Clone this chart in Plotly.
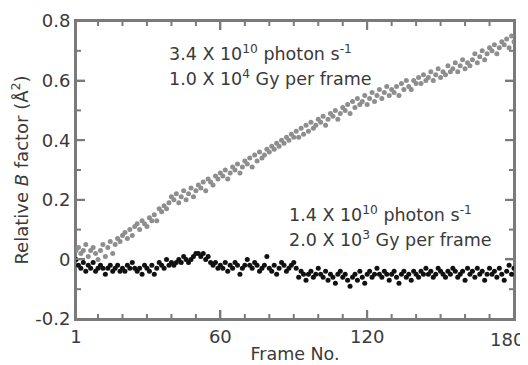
import plotly.graph_objects as go

frames = list(range(1, 181))

high_dose = [
    0.03, 0.04, 0.02, 0.03, 0.05, 0.01, 0.03, 0.04, 0.02, 0.00,
    0.03, 0.05, 0.01, 0.04, 0.06, 0.02, 0.05, 0.07, 0.06, 0.08,
    0.09, 0.07, 0.10, 0.08, 0.11, 0.12, 0.10, 0.13, 0.12, 0.11,
    0.14, 0.13, 0.15, 0.13, 0.17, 0.16, 0.18, 0.17, 0.19, 0.21,
    0.20, 0.22, 0.19, 0.21, 0.23, 0.20, 0.22, 0.24, 0.21, 0.23,
    0.25, 0.24, 0.26, 0.23, 0.27, 0.26, 0.25, 0.28, 0.27, 0.29,
    0.28, 0.30, 0.27, 0.29, 0.31, 0.30, 0.32, 0.29, 0.31, 0.33,
    0.32, 0.34, 0.31, 0.35, 0.33, 0.36, 0.34, 0.35, 0.37, 0.36,
    0.38, 0.37, 0.39, 0.38, 0.40, 0.39, 0.41, 0.40, 0.42, 0.41,
    0.43, 0.41, 0.44, 0.42, 0.45, 0.43, 0.46, 0.44, 0.45, 0.47,
    0.46, 0.48, 0.45, 0.47, 0.49, 0.48, 0.50, 0.47, 0.49, 0.51,
    0.50, 0.52, 0.49, 0.53, 0.51, 0.54, 0.52, 0.53, 0.55, 0.52,
    0.54, 0.56, 0.53, 0.55, 0.57, 0.54, 0.56, 0.58, 0.55, 0.57,
    0.56, 0.58, 0.55, 0.59, 0.57, 0.60, 0.58, 0.57, 0.60, 0.59,
    0.61, 0.59, 0.62, 0.60, 0.61, 0.63, 0.60, 0.62, 0.64, 0.61,
    0.63, 0.62, 0.65, 0.63, 0.64, 0.66, 0.63, 0.65, 0.67, 0.64,
    0.66, 0.65, 0.67, 0.69, 0.66, 0.68, 0.70, 0.67, 0.69, 0.71,
    0.70, 0.72, 0.69, 0.71, 0.73, 0.72, 0.74, 0.71, 0.75, 0.73,
]

low_dose = [
    0.00, -0.02, -0.03, -0.01, -0.04, -0.02, -0.03, -0.01, -0.04, -0.03,
    -0.02, -0.03, -0.05, -0.03, -0.02, -0.04, -0.03, -0.02, -0.04, -0.03,
    -0.04, -0.02, -0.03, -0.01, -0.03, -0.04, -0.03, -0.05, -0.02, -0.03,
    -0.04, -0.02, -0.05, -0.03, -0.01, -0.02, -0.03, 0.00, -0.02, -0.01,
    -0.02, -0.01, 0.00, -0.01, 0.01, 0.00, -0.01, 0.00, 0.01, 0.02,
    0.02, 0.01, 0.02, 0.00, 0.01, -0.01, -0.02, -0.01, -0.03, -0.02,
    -0.03, -0.01, -0.04, -0.02, -0.03, -0.01, -0.02, -0.05, -0.03, -0.02,
    0.00, -0.02, -0.03, -0.01, -0.02, -0.04, -0.03, -0.02, 0.01, -0.03,
    -0.04, -0.02, -0.05, -0.03, -0.01, -0.02, -0.04, -0.03, -0.02, -0.01,
    -0.03, -0.06, -0.04, -0.05, -0.07, -0.05, -0.04, -0.06, -0.05, -0.03,
    -0.05, -0.06, -0.04, -0.07, -0.05, -0.06, -0.08, -0.05, -0.04, -0.06,
    -0.05, -0.07, -0.09, -0.06, -0.05, -0.07, -0.04, -0.06, -0.08, -0.05,
    -0.04, -0.06, -0.05, -0.03, -0.05, -0.06, -0.04, -0.05, -0.07, -0.05,
    -0.04, -0.06, -0.08, -0.05, -0.04, -0.06, -0.05, -0.07, -0.04, -0.05,
    -0.06, -0.04, -0.05, -0.03, -0.05, -0.04, -0.06, -0.05, -0.03, -0.04,
    -0.05, -0.06, -0.04, -0.05, -0.03, -0.04, -0.06, -0.05, -0.04, -0.07,
    -0.03, -0.05, -0.04, -0.06, -0.03, -0.05, -0.04, -0.07, -0.05, -0.03,
    -0.05, -0.04, -0.06, -0.03, -0.05, -0.07, -0.04, -0.02, -0.05, -0.03,
]

x_ticks = [1, 60, 120, 180]
x_labels = ["1", "60", "120", ""]   # the last label is placed as a text below, nudged inward
last_x_label = "180"
x_minor = [10, 20, 30, 40, 50, 70, 80, 90, 100, 110, 130, 140, 150, 160, 170]
y_ticks = [-0.2, 0, 0.2, 0.4, 0.6, 0.8]
y_labels = ["-0.2", "0", "0.2", "0.4", "0.6", "0.8"]
y_minor = [-0.1, 0.1, 0.3, 0.5, 0.7]

label_high = ["3.4 X 10<sup>10</sup> photon s<sup>-1</sup>", "1.0 X 10<sup>4</sup> Gy per frame"]
label_low = ["1.4 X 10<sup>10</sup> photon s<sup>-1</sup>", "2.0 X 10<sup>3</sup> Gy per frame"]

TXT = "#3a3a3a"
AX = "#7a7a7a"
FONT = "DejaVu Sans, sans-serif"
X_RANGE = [1, 180]
Y_RANGE = [-0.2, 0.8]

# plot area is 438 x 298 px; convert tick lengths in px to data units
PX_X = (X_RANGE[1] - X_RANGE[0]) / 438.0
PX_Y = (Y_RANGE[1] - Y_RANGE[0]) / 298.0
MAJOR, MINOR = 9, 5

fig = go.Figure()

# frame and ticks as a line trace built from the axis ranges and tick arrays
fx, fy = [], []
x0, x1 = X_RANGE
y0, y1 = Y_RANGE
fx += [x0, x1, x1, x0, x0, None]
fy += [y0, y0, y1, y1, y0, None]
for vals, ln in ((x_ticks, MAJOR), (x_minor, MINOR)):
    for v in vals:
        fx += [v, v, None, v, v, None]
        fy += [y0, y0 + ln * PX_Y, None, y1, y1 - ln * PX_Y, None]
for vals, ln in ((y_ticks, MAJOR), (y_minor, MINOR)):
    for v in vals:
        fx += [x0, x0 + ln * PX_X, None, x1, x1 - ln * PX_X, None]
        fy += [v, v, None, v, v, None]
fig.add_trace(go.Scatter(x=fx, y=fy, mode="lines", line=dict(color=AX, width=2),
                         hoverinfo="skip", showlegend=False, cliponaxis=False))

fig.add_trace(go.Scatter(x=frames, y=high_dose, mode="markers",
                         marker=dict(color="#8e8e8e", size=5), showlegend=False))
fig.add_trace(go.Scatter(x=frames, y=low_dose, mode="markers",
                         marker=dict(color="#111111", size=5), showlegend=False))

fig.update_layout(
    width=520, height=357, margin=dict(l=68, r=14, t=13, b=46),
    plot_bgcolor="white", paper_bgcolor="white",
    xaxis=dict(range=X_RANGE, tickmode="array", tickvals=x_ticks, ticktext=x_labels,
               showgrid=False, zeroline=False, showline=True, linecolor=AX, linewidth=2,
               ticks="inside", ticklen=MAJOR, tickwidth=2, tickcolor=AX, mirror="ticks",
               automargin=False, ticklabeloverflow="allow",
               tickfont=dict(size=18, color=TXT, family=FONT),
               title=dict(text="Frame No.", font=dict(size=17.5, color=TXT, family=FONT),
                          standoff=2)),
    yaxis=dict(range=Y_RANGE, tickmode="array", tickvals=y_ticks, ticktext=y_labels,
               showgrid=False, zeroline=False, showline=True, linecolor=AX, linewidth=2,
               ticks="inside", ticklen=MAJOR, tickwidth=2, tickcolor=AX, mirror="ticks",
               automargin=False, ticklabeloverflow="allow",
               tickfont=dict(size=18, color=TXT, family=FONT),
               title=dict(text="Relative <i>B</i> factor (Å<sup>2</sup>)",
                          font=dict(size=18, color=TXT, family=FONT), standoff=4)),
)

annots = []
for txt, yy in zip(label_high, [0.893, 0.809]):
    annots.append(dict(x=0.208, y=yy, xref="paper", yref="paper", text=txt, showarrow=False,
                       xanchor="left", yanchor="middle",
                       font=dict(size=17.5, color=TXT, family=FONT)))
for txt, yy in zip(label_low, [0.352, 0.268]):
    annots.append(dict(x=0.482, y=yy, xref="paper", yref="paper", text=txt, showarrow=False,
                       xanchor="left", yanchor="middle",
                       font=dict(size=17.5, color=TXT, family=FONT)))
annots.append(dict(x=x_ticks[-1], y=0, xref="x", yref="paper", text=last_x_label,
                   showarrow=False, xanchor="center", yanchor="middle", xshift=-7, yshift=-20,
                   font=dict(size=18, color=TXT, family=FONT)))
fig.update_layout(annotations=annots)

fig.write_html("out.html")
